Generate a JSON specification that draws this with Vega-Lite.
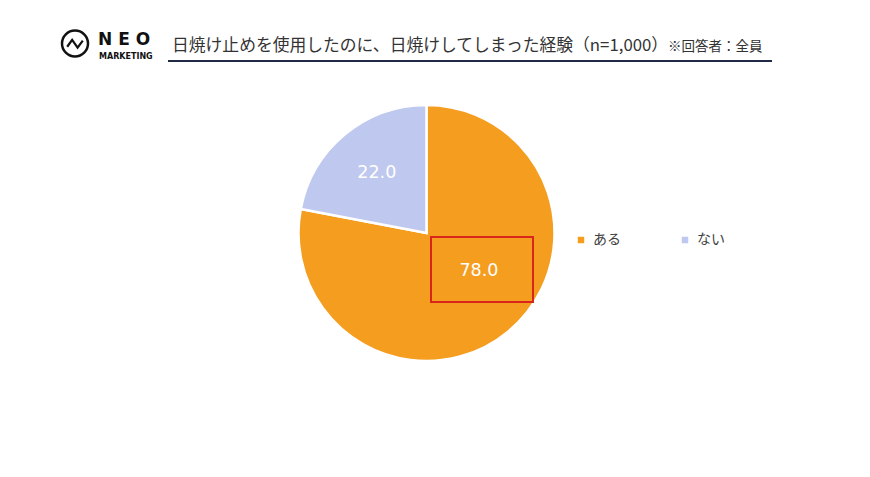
{
  "$schema": "https://vega.github.io/schema/vega-lite/v6.json",
  "autosize": "none",
  "width": 853,
  "height": 326,
  "padding": {"top": 70, "left": 0, "right": 17, "bottom": 81},
  "background": "#FFFFFF",
  "data": {
    "values": [
      {"answer": "ある", "value": 78.0},
      {"answer": "ない", "value": 22.0}
    ]
  },
  "layer": [
    {
      "mark": {"type": "arc", "outerRadius": 128, "stroke": "#FFFFFF", "strokeWidth": 2.5},
      "encoding": {
        "theta": {"field": "value", "type": "quantitative", "stack": true},
        "order": {"field": "answer", "type": "nominal", "sort": "ascending"},
        "color": {
          "field": "answer",
          "type": "nominal",
          "scale": {"domain": ["ある", "ない"], "range": ["#F59D1F", "#BFC8EE"]},
          "legend": {
            "title": null,
            "orient": "none",
            "legendX": 574,
            "legendY": 163,
            "direction": "horizontal",
            "columns": 2,
            "columnPadding": 57,
            "symbolType": "square",
            "symbolSize": 42,
            "symbolStrokeWidth": 0,
            "labelFont": "Noto Sans CJK JP",
            "labelFontSize": 14,
            "labelColor": "#404040",
            "labelOffset": 5
          }
        }
      }
    },
    {
      "mark": {"type": "text", "radius": 78, "font": "DejaVu Sans", "fontSize": 17.5, "fill": "#FFFFFF"},
      "encoding": {
        "theta": {"field": "value", "type": "quantitative", "stack": true},
        "order": {"field": "answer", "type": "nominal", "sort": "ascending"},
        "detail": {"field": "answer", "type": "nominal"},
        "text": {
          "condition": {"test": "datum.answer === 'ない'", "field": "value", "type": "quantitative", "format": ".1f"},
          "value": ""
        }
      }
    },
    {
      "mark": {"type": "text", "radius": 65, "dx": 11, "dy": -12, "font": "DejaVu Sans", "fontSize": 17.5, "fill": "#FFFFFF"},
      "encoding": {
        "theta": {"field": "value", "type": "quantitative", "stack": true},
        "order": {"field": "answer", "type": "nominal", "sort": "ascending"},
        "detail": {"field": "answer", "type": "nominal"},
        "text": {
          "condition": {"test": "datum.answer === 'ある'", "field": "value", "type": "quantitative", "format": ".1f"},
          "value": ""
        }
      }
    },
    {
      "data": {"values": [{}]},
      "mark": {"type": "rect", "x": 431, "x2": 533, "y": 167, "y2": 232, "fill": null, "fillOpacity": 0, "stroke": "#D9261C", "strokeWidth": 2},
      "encoding": {}
    },
    {
      "data": {"values": [{}]},
      "mark": {"type": "rect", "x": 168, "x2": 772, "y": -10, "y2": -8, "fill": "#1F2A44"},
      "encoding": {}
    },
    {
      "data": {"values": [{}]},
      "mark": {"type": "text", "text": "日焼け止めを使用したのに、日焼けしてしまった経験（n=1,000）", "x": 172, "y": -24, "align": "left", "baseline": "middle", "font": "Noto Sans CJK JP", "fontSize": 16.8, "fill": "#333333"},
      "encoding": {}
    },
    {
      "data": {"values": [{}]},
      "mark": {"type": "text", "text": "※回答者：全員", "x": 668, "y": -23, "align": "left", "baseline": "middle", "font": "Noto Sans CJK JP", "fontSize": 13.5, "fill": "#333333"},
      "encoding": {}
    },
    {
      "data": {"values": [{}]},
      "mark": {"type": "point", "shape": "circle", "x": 75, "y": -26.5, "size": 676, "filled": false, "stroke": "#111111", "strokeWidth": 2.5, "opacity": 1},
      "encoding": {}
    },
    {
      "data": {"values": [{}]},
      "mark": {"type": "point", "shape": "M-0.6,0.25L-0.22,-0.28L0.2,0.32L0.6,-0.22", "x": 75, "y": -26.5, "size": 676, "filled": false, "stroke": "#111111", "strokeWidth": 2.2, "opacity": 1},
      "encoding": {}
    },
    {
      "data": {"values": [{}]},
      "mark": {"type": "text", "text": "N E O", "x": 98, "y": -30, "align": "left", "baseline": "middle", "font": "DejaVu Sans", "fontWeight": "bold", "fontSize": 17, "fill": "#111111"},
      "encoding": {}
    },
    {
      "data": {"values": [{}]},
      "mark": {"type": "text", "text": "MARKETING", "x": 99, "y": -13, "align": "left", "baseline": "middle", "font": "DejaVu Sans", "fontWeight": "bold", "fontSize": 8, "fill": "#111111"},
      "encoding": {}
    }
  ],
  "config": {"view": {"stroke": null}}
}
